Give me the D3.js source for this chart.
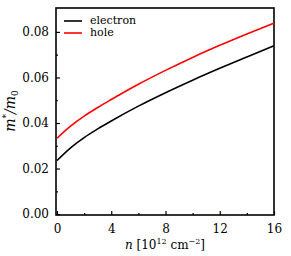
<!DOCTYPE html>
<html>
<head>
    <script src="https://d3js.org/d3.v7.min.js"></script>
    <style>
        body { margin: 0; background: #fff; }
    </style>
</head>
<body>
    <svg width="291" height="256"></svg>
    <script>
        const nValues = [0, 1, 2, 3, 4, 6, 8, 10, 12, 14, 16];
        const electron = [0.0235, 0.0291, 0.0336, 0.0374, 0.0409, 0.0474, 0.0533, 0.0588, 0.0640, 0.0690, 0.0739];
        const hole = [0.0333, 0.0386, 0.0430, 0.0468, 0.0503, 0.0570, 0.0631, 0.0688, 0.0741, 0.0791, 0.0839];
        const xTicks = [0, 4, 8, 12, 16];
        const yTicks = [0, 0.02, 0.04, 0.06, 0.08];
        const seriesNames = ["electron", "hole"];
        const seriesColors = ["#000000", "#ff0000"];

        const FONT = "DejaVu Serif";
        const svg = d3.select("svg").attr("font-family", FONT);
        const plotLeft = 56, plotRight = 274, plotTop = 8, plotBottom = 215;

        const x = d3.scaleLinear().domain([0, 16]).range([plotLeft + 1, plotRight]);
        const y = d3.scaleLinear().domain([-0.0004, 0.0905]).range([plotBottom, plotTop]);

        // minor ticks
        const xMinor = [2, 6, 10, 14];
        const yMinor = [0.01, 0.03, 0.05, 0.07];

        svg.append("g")
            .attr("transform", `translate(0,${plotBottom})`)
            .call(d3.axisBottom(x).tickValues(xTicks).tickSize(-4).tickPadding(9).tickFormat(d3.format("d")));
        svg.append("g")
            .attr("transform", `translate(0,${plotBottom})`)
            .call(d3.axisBottom(x).tickValues(xMinor).tickSize(-2).tickFormat(""));

        svg.append("g")
            .attr("transform", `translate(${plotLeft},0)`)
            .call(d3.axisLeft(y).tickValues(yTicks).tickSize(-4).tickPadding(7).tickFormat(d3.format(".2f")));
        svg.append("g")
            .attr("transform", `translate(${plotLeft},0)`)
            .call(d3.axisLeft(y).tickValues(yMinor).tickSize(-2).tickFormat(""));

        svg.selectAll(".domain").remove();
        svg.selectAll("g").attr("font-family", FONT);
        svg.selectAll(".tick line").attr("stroke", "#000").attr("stroke-width", 1.2);
        svg.selectAll(".tick text").attr("font-size", 12).attr("fill", "#000");

        // frame
        svg.append("rect")
            .attr("x", plotLeft).attr("y", plotTop)
            .attr("width", plotRight - plotLeft).attr("height", plotBottom - plotTop)
            .attr("fill", "none").attr("stroke", "#000").attr("stroke-width", 1.6);

        const line = d3.line()
            .x((d, i) => x(nValues[i]))
            .y(d => y(d))
            .curve(d3.curveMonotoneX);

        [electron, hole].forEach((s, i) => {
            svg.append("path")
                .attr("d", line(s))
                .attr("fill", "none")
                .attr("stroke", seriesColors[i])
                .attr("stroke-width", 1.6);
        });

        // legend
        const legend = svg.selectAll(".legend")
            .data(seriesNames)
            .enter().append("g")
            .attr("class", "legend")
            .attr("transform", (d, i) => `translate(0,${21 + i * 12})`);
        legend.append("line")
            .attr("x1", 64).attr("x2", 82)
            .attr("stroke", (d, i) => seriesColors[i])
            .attr("stroke-width", 1.6);
        legend.append("text")
            .attr("x", 90).attr("dy", "0.3em")
            .attr("font-size", 11)
            .text(d => d);

        // axis titles
        const xt = svg.append("text")
            .attr("x", 165).attr("y", 249)
            .attr("text-anchor", "middle")
            .attr("font-size", 12);
        xt.append("tspan").attr("font-style", "italic").text("n");
        xt.append("tspan").text(" [10");
        xt.append("tspan").attr("font-size", 8).attr("dy", -5).text("12");
        xt.append("tspan").attr("dy", 5).text(" cm");
        xt.append("tspan").attr("font-size", 8).attr("dy", -5).text("\u22122");
        xt.append("tspan").attr("dy", 5).text("]");

        const yt = svg.append("text")
            .attr("transform", "translate(15,111) rotate(-90)")
            .attr("text-anchor", "middle")
            .attr("font-size", 14)
            .attr("font-style", "italic");
        yt.append("tspan").text("m");
        yt.append("tspan").attr("font-size", 9).attr("dy", -6).attr("font-style", "normal").text("*");
        yt.append("tspan").attr("dy", 6).text("/m");
        yt.append("tspan").attr("font-size", 9).attr("dy", 3).attr("font-style", "normal").text("0");
    </script>
</body>
</html>
